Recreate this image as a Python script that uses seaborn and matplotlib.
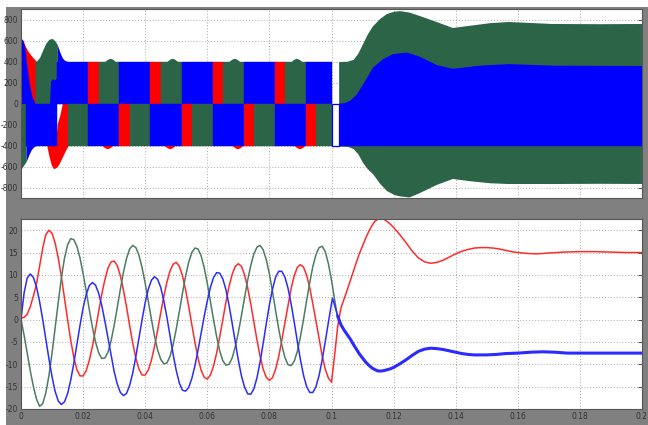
import numpy as np
import pandas as pd
import seaborn as sns
import matplotlib
matplotlib.use('Agg')
from matplotlib import pyplot as plt
from matplotlib.patches import Rectangle

# Colours of the two scopes

COL = {'r': '#ff0000', 'g': '#2b6446', 'b': '#0000ff'}
LINE_COL = {'red': '#ff2b2b', 'green': '#4a7d62', 'blue': '#2b2bff'}

# ---------------- top scope: PWM phase voltages (V) ----------------

# visible colour blocks in the upper half (0..+400)
up_t0 = [0.0117, 0.0217, 0.0250, 0.0317, 0.0417, 0.0450, 0.0517, 0.0617, 0.0650, 0.0717, 0.0817, 0.0850, 0.0917]
up_t1 = [0.0217, 0.0250, 0.0317, 0.0417, 0.0450, 0.0517, 0.0617, 0.0650, 0.0717, 0.0817, 0.0850, 0.0917, 0.1003]
up_col = ['b', 'r', 'g', 'b', 'r', 'g', 'b', 'r', 'g', 'b', 'r', 'g', 'b']

# visible colour blocks in the lower half (0..-400)
lo_t0 = [0.0017, 0.0150, 0.0217, 0.0317, 0.0350, 0.0417, 0.0517, 0.0550, 0.0617, 0.0717, 0.0750, 0.0817, 0.0917, 0.0950, 0.1023]
lo_t1 = [0.0117, 0.0217, 0.0317, 0.0350, 0.0417, 0.0517, 0.0550, 0.0617, 0.0717, 0.0750, 0.0817, 0.0917, 0.0950, 0.1003, 0.2000]
lo_col = ['b', 'g', 'b', 'r', 'g', 'b', 'r', 'g', 'b', 'r', 'g', 'b', 'r', 'g', 'b']
band = 400

# start-up transient
red_up_t = [0, 0.0007, 0.0013, 0.0022, 0.0032, 0.0042, 0.0050]
red_up_v = [620, 600, 550, 500, 460, 425, 400]
blue_wedge_t = [0, 0.0006, 0.0012, 0.0018, 0.0026, 0.0036, 0.0046]
blue_wedge_v = [620, 600, 540, 380, 200, 60, 0]
green_hump_t = [0.0045, 0.0050, 0.0060, 0.0070, 0.0080, 0.0090, 0.0100, 0.0110, 0.0117]
green_hump_v = [400, 405, 440, 510, 575, 612, 620, 595, 560]
blue_inner_t = [0.0092, 0.0095, 0.0100, 0.0108, 0.0114, 0.0117]
blue_inner_v = [0, 210, 235, 225, 240, 240]
blue_hump_t = [0.0117, 0.0125, 0.0133, 0.0141, 0.0150]
blue_hump_v = [560, 490, 435, 410, 400]

green_lo_t = [0, 0.0008, 0.0017]
green_lo_v = [-625, -590, -550]
blue_lo_t = [0.0017, 0.0025, 0.0033, 0.0040, 0.0048]
blue_lo_v = [-550, -490, -440, -415, -400]
red_lo_t = [0.0083, 0.0090, 0.0097, 0.0104, 0.0110, 0.0117, 0.0125, 0.0133, 0.0141, 0.0150]
red_lo_top = [-400, -400, -400, -400, -400, -190, -110, 0, 0, 0]
red_lo_bot = [-400, -500, -580, -620, -615, -600, -560, -510, -460, -410]

# small overshoots on the block edges
bump_dt = [-0.0017, -0.0010, -0.0004, 0.0, 0.0004, 0.0010, 0.0017]
bump_dv = [0, 18, 27, 30, 27, 18, 0]
green_bump_c = [0.0287, 0.0487, 0.0687, 0.0887]
red_bump_c = [0.0278, 0.0479, 0.0697, 0.0897]

# after the fault at t = 0.1 s
gen_t = [0.1023, 0.1050, 0.1058, 0.1070, 0.1085, 0.1100, 0.1115, 0.1132, 0.1155, 0.1177, 0.1200, 0.1219,
         0.1250, 0.1283, 0.1338, 0.1389, 0.1444, 0.1510, 0.1570, 0.1710, 0.1860, 0.2000]
gen_up = [400, 402, 410, 420, 480, 570, 660, 740, 810, 857, 878, 885,
          870, 838, 780, 724, 745, 770, 781, 762, 760, 762]
gen_lo = [-405, -408, -415, -430, -480, -560, -620, -667, -760, -829, -865, -880,
          -890, -848, -770, -714, -735, -755, -762, -762, -760, -762]
ben_t = [0.1023, 0.1040, 0.1058, 0.1080, 0.1113, 0.1132, 0.1164, 0.1196, 0.1241, 0.1283, 0.1338,
         0.1389, 0.1476, 0.1570, 0.1710, 0.2000]
ben_up = [0, 8, 30, 90, 250, 346, 425, 475, 490, 450, 370, 335, 365, 380, 365, 362]

# ---------------- bottom scope: phase currents (A) ----------------

t_ms = np.arange(101) / 1000

red_i = [0.3, 0.5, 1.2, 2.9, 5.3, 8.0, 12.0, 16.0, 19.0, 20.0,
         19.3, 17.1, 13.8, 9.6, 4.8, 0.0, -4.6, -8.4, -11.2, -12.6,
         -12.6, -11.4, -9.1, -6.0, -2.2, 1.8, 5.6, 8.9, 11.5, 12.9,
         13.1, 12.1, 9.8, 6.6, 2.8, -1.4, -5.3, -8.7, -11.1, -12.4,
         -12.4, -11.3, -9.1, -6.0, -2.4, 1.5, 5.2, 8.4, 10.9, 12.4,
         12.8, 11.9, 9.8, 6.7, 3.0, -1.1, -5.0, -8.6, -11.3, -12.9,
         -13.3, -12.4, -10.4, -7.5, -3.9, 0.0, 3.9, 7.4, 10.1, 11.9,
         12.5, 11.9, 10.0, 7.1, 3.5, -0.6, -4.6, -8.2, -11.1, -12.9,
         -13.6, -13.0, -11.1, -8.3, -4.6, -0.7, 3.3, 7.0, 9.8, 11.7,
         12.3, 11.7, 9.9, 7.1, 3.5, -0.4, -4.4, -8.1, -11.1, -13.1,
         -14.0]
red_tail_t = [0.101, 0.102, 0.103, 0.104, 0.105, 0.106, 0.107, 0.108, 0.109, 0.110,
              0.111, 0.112, 0.113, 0.114, 0.115, 0.116, 0.117, 0.118, 0.119, 0.120,
              0.122, 0.124, 0.126, 0.128, 0.130, 0.132, 0.134, 0.136, 0.138, 0.140,
              0.142, 0.144, 0.146, 0.148, 0.150, 0.152, 0.154, 0.156, 0.158, 0.160,
              0.163, 0.166, 0.170, 0.175, 0.180, 0.185, 0.190, 0.195, 0.200]
red_tail_v = [-8.0, -1.5, 2.5, 4.5, 6.5, 8.6, 10.7, 12.8, 14.8, 16.5,
              18.2, 19.7, 21.0, 22.0, 22.5, 22.6, 22.4, 21.9, 21.3, 20.6,
              19.0, 17.2, 15.3, 13.8, 12.9, 12.6, 12.8, 13.3, 14.0, 14.7,
              15.3, 15.7, 16.0, 16.1, 16.1, 16.0, 15.8, 15.5, 15.2, 15.0,
              14.8, 14.7, 14.9, 15.1, 15.2, 15.2, 15.1, 15.0, 15.0]

green_i = [0.0, -3.5, -7.5, -11.5, -15.0, -17.8, -19.4, -18.8, -16.4, -12.5,
           -7.5, -1.8, 3.9, 9.3, 13.7, 16.7, 18.1, 17.9, 16.4, 13.8,
           10.3, 6.4, 2.2, -1.7, -5.0, -7.4, -8.7, -8.6, -7.3, -4.8,
           -1.3, 2.7, 6.8, 10.6, 13.7, 15.8, 16.6, 16.1, 14.4, 11.6,
           8.1, 4.1, 0.1, -3.7, -6.8, -8.9, -9.9, -9.7, -8.2, -5.6,
           -2.1, 1.8, 5.9, 9.7, 12.8, 15.0, 16.0, 15.8, 14.3, 11.6,
           8.1, 4.1, 0.0, -3.8, -7.0, -9.2, -10.2, -10.0, -8.6, -6.1,
           -2.9, 0.9, 4.9, 8.8, 12.1, 14.7, 16.2, 16.6, 15.6, 13.4,
           10.2, 6.3, 2.0, -2.1, -5.7, -8.5, -10.1, -10.3, -9.3, -7.1,
           -3.8, 0.1, 4.3, 8.3, 11.9, 14.5, 16.1, 16.4, 15.2, 12.5,
           8.8]
green_tail_t = [0.101, 0.102]
green_tail_v = [4.5, 0.3]

blue_i = [0.0, 6.0, 9.3, 10.2, 9.4, 7.3, 4.0, 0.0, -4.4, -8.8,
          -12.8, -16.1, -18.2, -19.0, -18.4, -16.6, -13.6, -9.8, -5.6, -1.3,
          2.6, 5.6, 7.6, 8.3, 7.7, 5.9, 3.2, -0.3, -4.1, -8.0,
          -11.6, -14.4, -16.3, -17.0, -16.5, -14.7, -11.9, -8.2, -4.1, 0.0,
          3.8, 6.8, 8.8, 9.6, 9.0, 7.2, 4.2, 0.5, -3.7, -7.8,
          -11.4, -14.2, -15.8, -16.0, -15.2, -13.2, -10.4, -6.9, -3.1, 0.7,
          4.2, 7.2, 9.4, 10.5, 10.4, 9.1, 6.7, 3.2, -0.8, -5.0,
          -9.1, -12.6, -15.1, -16.6, -16.7, -15.5, -13.0, -9.5, -5.3, -0.9,
          3.3, 6.8, 9.5, 10.8, 10.8, 9.5, 7.0, 3.5, -0.6, -4.9,
          -9.0, -12.5, -15.0, -16.3, -16.3, -15.0, -12.5, -9.0, -4.9, -0.6,
          3.5]
blue_tail_t = [0.1003, 0.101, 0.102, 0.103, 0.104, 0.105, 0.106, 0.107, 0.108, 0.109,
               0.110, 0.111, 0.112, 0.113, 0.114, 0.115, 0.116, 0.117, 0.118, 0.119,
               0.120, 0.122, 0.124, 0.126, 0.128, 0.130, 0.132, 0.134, 0.136, 0.138,
               0.140, 0.142, 0.144, 0.146, 0.148, 0.150, 0.153, 0.156, 0.160, 0.164,
               0.168, 0.172, 0.176, 0.180, 0.185, 0.190, 0.195, 0.200]
blue_tail_v = [4.8, 3.2, 0.8, -1.1, -2.3, -3.3, -4.3, -5.5, -6.6, -7.7,
               -8.6, -9.5, -10.2, -10.8, -11.2, -11.5, -11.5, -11.4, -11.2, -11.0,
               -10.7, -9.9, -9.0, -8.0, -7.1, -6.6, -6.4, -6.5, -6.7, -7.0,
               -7.3, -7.6, -7.8, -7.9, -7.9, -7.9, -7.8, -7.6, -7.5, -7.3,
               -7.2, -7.3, -7.5, -7.5, -7.5, -7.5, -7.5, -7.5]

x_ticks = [0, 0.02, 0.04, 0.06, 0.08, 0.1, 0.12, 0.14, 0.16, 0.18, 0.2]
x_labels = ['0', '0.02', '0.04', '0.06', '0.08', '0.1', '0.12', '0.14', '0.16', '0.18', '0.2']
v_ticks = [800, 600, 400, 200, 0, -200, -400, -600, -800]
i_ticks = [20, 15, 10, 5, 0, -5, -10, -15, -20]

# ---------------- figure ----------------

sns.set_style('white')
plt.rcParams['font.family'] = ['DejaVu Sans']
plt.rcParams['axes.unicode_minus'] = False

fig = plt.figure(figsize=(6.48, 4.25), dpi=100)
fig.patch.set_facecolor('white')
fig.add_artist(Rectangle((6 / 648, 0), 1, 1 - 7 / 425, transform=fig.transFigure,
                         facecolor='#808080', edgecolor='none', zorder=-10))

ax = fig.add_axes([21 / 648, 1 - 198 / 425, 621 / 648, 189 / 425])
ax2 = fig.add_axes([21 / 648, 1 - 409 / 425, 621 / 648, 190 / 425])

for a in (ax, ax2):
    a.set_facecolor('white')
    a.set_axisbelow(True)
    a.grid(True, color='#a8a8a8', linestyle=(0, (1, 2)), linewidth=0.7)
    a.set_xlim(0, 0.2)
    a.set_xticks(x_ticks)
    a.tick_params(direction='in', length=3, width=0.6, colors='#333333', labelsize=5.5,
                  right=True, top=False, pad=2)
    for s in a.spines.values():
        s.set_color('#555555')
        s.set_linewidth(0.8)

# top scope
ax.fill_between(red_up_t, 0, red_up_v, color=COL['r'], linewidth=0)
ax.fill_between(blue_wedge_t, 0, blue_wedge_v, color=COL['b'], linewidth=0)
ax.fill_between(green_hump_t, 0, green_hump_v, color=COL['g'], linewidth=0)
ax.fill_between(blue_inner_t, 0, blue_inner_v, color=COL['b'], linewidth=0)
ax.fill_between(blue_hump_t, 0, blue_hump_v, color=COL['b'], linewidth=0)
ax.fill_between(green_lo_t, green_lo_v, 0, color=COL['g'], linewidth=0)
ax.fill_between(red_lo_t, red_lo_bot, red_lo_top, color=COL['r'], linewidth=0)
ax.fill_between(blue_lo_t, blue_lo_v, 0, color=COL['b'], linewidth=0)

ax.fill_between(gen_t, gen_lo, gen_up, color=COL['g'], linewidth=0)
ax.fill_between(ben_t, 0, ben_up, color=COL['b'], linewidth=0)

up_w = np.array(up_t1) - np.array(up_t0)
lo_w = np.array(lo_t1) - np.array(lo_t0)
ax.bar(up_t0, band, width=up_w, bottom=0, align='edge',
       color=[COL[c] for c in up_col], edgecolor=[COL[c] for c in up_col], linewidth=0.3)
ax.bar(lo_t0, -band, width=lo_w, bottom=0, align='edge',
       color=[COL[c] for c in lo_col], edgecolor=[COL[c] for c in lo_col], linewidth=0.3)
ax.bar([0.1003], -band, width=0.002, bottom=0, align='edge',
       facecolor='white', edgecolor=COL['b'], linewidth=0.9)

for c in green_bump_c:
    ax.fill_between(np.array(bump_dt) + c, band, band + np.array(bump_dv), color=COL['g'], linewidth=0)
for c in red_bump_c:
    ax.fill_between(np.array(bump_dt) + c, -band - np.array(bump_dv), -band, color=COL['r'], linewidth=0)

ax.set_ylim(-900, 900)
ax.set_yticks(v_ticks)
ax.set_yticklabels([str(v) for v in v_ticks])
ax.set_xticklabels([])

# bottom scope
cur = pd.concat([
    pd.DataFrame({'t': np.concatenate([t_ms, red_tail_t]), 'i': red_i + red_tail_v, 'phase': 'red'}),
    pd.DataFrame({'t': np.concatenate([t_ms, green_tail_t]), 'i': green_i + green_tail_v, 'phase': 'green'}),
    pd.DataFrame({'t': np.concatenate([t_ms, blue_tail_t]), 'i': blue_i + blue_tail_v, 'phase': 'blue'}),
])
sns.lineplot(data=cur, x='t', y='i', hue='phase', hue_order=['red', 'green', 'blue'],
             palette=LINE_COL, estimator=None, sort=False, linewidth=1.1, legend=False, ax=ax2)

thick = np.array(blue_tail_t) >= 0.102
sns.lineplot(x=np.array(blue_tail_t)[thick], y=np.array(blue_tail_v)[thick], color=LINE_COL['blue'],
             estimator=None, sort=False, linewidth=2.2, ax=ax2)

ax2.set_ylim(-20, 22.5)
ax2.set_yticks(i_ticks)
ax2.set_yticklabels([str(v) for v in i_ticks])
ax2.set_xticklabels(x_labels)
ax2.set_xlabel('')
ax2.set_ylabel('')

plt.savefig('out.png', dpi=100)
